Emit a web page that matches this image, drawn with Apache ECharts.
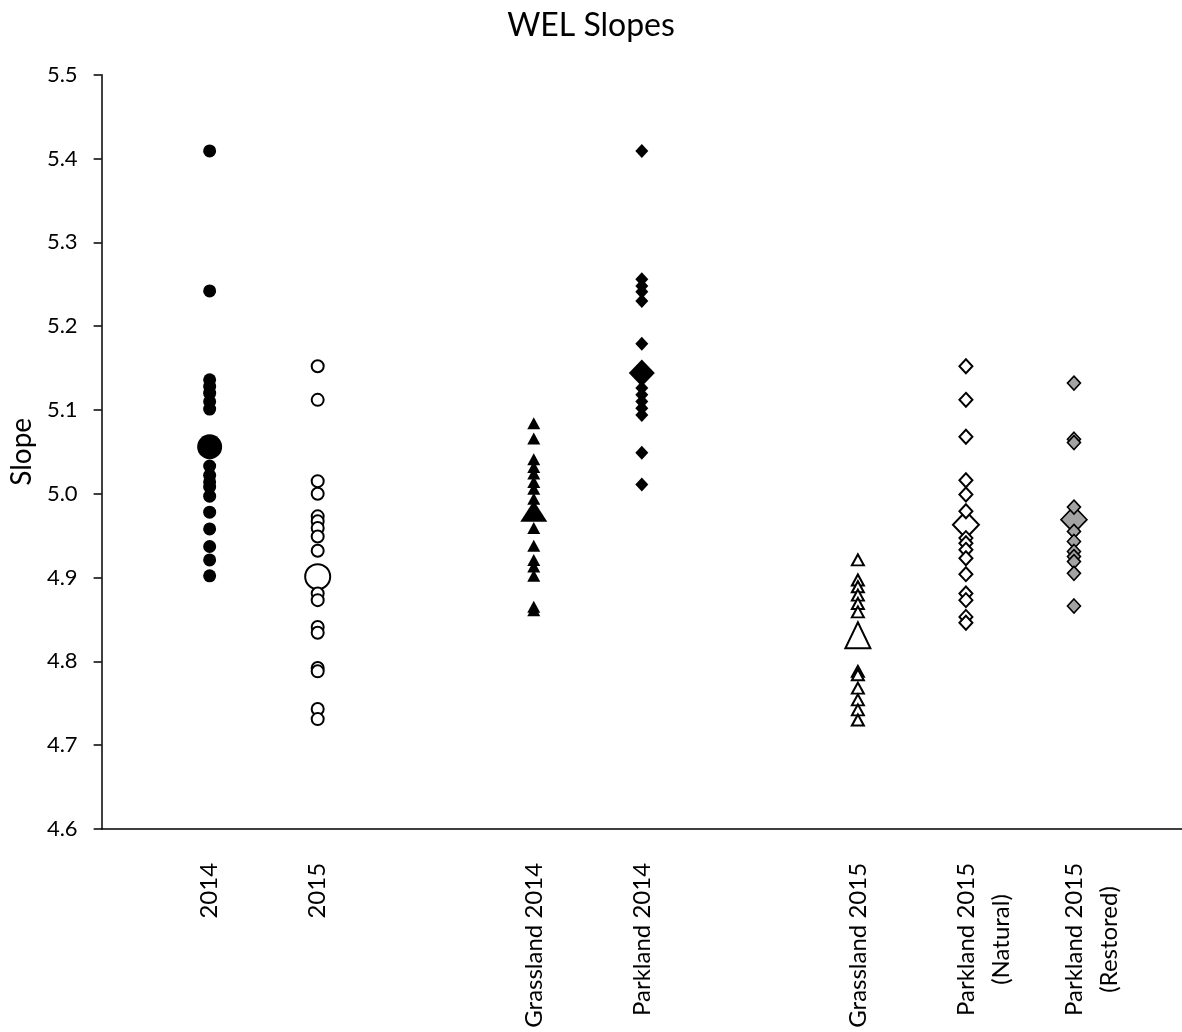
<!DOCTYPE html>
<html>
<head>
<meta charset="utf-8">
<title>WEL Slopes</title>
<script src="https://cdn.jsdelivr.net/npm/echarts@6/dist/echarts.min.js"></script>
<style>
  html, body { margin: 0; padding: 0; background: #ffffff; }
  #chart { width: 1182px; height: 1032px; }
</style>
</head>
<body>
<div id="chart"></div>
<script>
// Category names and the slot each one occupies on the horizontal axis (blank slots separate the groups)
const groupLabels = ['2014', '2015', 'Grassland 2014', 'Parkland 2014', 'Grassland 2015', 'Parkland 2015\n(Natural)', 'Parkland 2015\n(Restored)'];
const groupSlots = [1, 2, 4, 5, 7, 8, 9];

// Individual slopes per group
const slopes2014 = [5.409, 5.242, 5.136, 5.128, 5.120, 5.110, 5.101, 5.033, 5.022, 5.014, 5.008, 4.997, 4.978, 4.958, 4.937, 4.921, 4.902];
const slopes2015 = [5.152, 5.112, 5.015, 5.000, 4.973, 4.967, 4.959, 4.949, 4.932, 4.881, 4.873, 4.841, 4.834, 4.792, 4.788, 4.743, 4.731];
const slopesGrass2014 = [5.084, 5.066, 5.041, 5.032, 5.024, 5.014, 5.006, 4.994, 4.959, 4.938, 4.921, 4.913, 4.902, 4.865, 4.861];
const slopesPark2014 = [5.409, 5.256, 5.248, 5.241, 5.230, 5.179, 5.126, 5.118, 5.110, 5.102, 5.094, 5.049, 5.011];
const slopesGrass2015 = [4.921, 4.897, 4.889, 4.879, 4.869, 4.859, 4.788, 4.784, 4.768, 4.754, 4.742, 4.730];
const slopesParkNatural = [5.152, 5.112, 5.068, 5.016, 4.999, 4.979, 4.947, 4.941, 4.933, 4.923, 4.904, 4.881, 4.873, 4.853, 4.846];
const slopesParkRestored = [5.132, 5.065, 5.061, 4.984, 4.955, 4.943, 4.931, 4.925, 4.919, 4.905, 4.866];

// Group means
const groupMeans = [5.056, 4.901, 4.979, 5.144, 4.831, 4.963, 4.969];

// Value axis ticks
const yTicks = [4.6, 4.7, 4.8, 4.9, 5.0, 5.1, 5.2, 5.3, 5.4, 5.5];

const FONT = 'Lato';
const INK = '#000000';

const groupSeries = [slopes2014, slopes2015, slopesGrass2014, slopesPark2014, slopesGrass2015, slopesParkNatural, slopesParkRestored];

// Marker styles per group: [symbol, small size, mean size, fill, border width]
const markerStyles = [
  ['circle',   [13, 13], [25, 25], INK,       0],
  ['circle',   [12, 12], [25, 25], '#ffffff', 2],
  ['triangle', [13, 12], [27, 21], INK,       0],
  ['diamond',  [13, 14], [26, 27], INK,       0],
  ['triangle', [12, 11], [25, 26], '#ffffff', 2],
  ['diamond',  [13, 14], [26, 27], '#ffffff', 2],
  ['diamond',  [13, 14], [26, 27], '#a3a3a3', 1.6]
];

// Axis label text at each slot
const labelAtSlot = {};
groupSlots.forEach((s, i) => { labelAtSlot[s] = groupLabels[i]; });

function formatGroupLabel(v) {
  const text = labelAtSlot[Math.round(v)];
  if (!text) return '';
  const lines = text.split('\n');
  if (lines.length === 1) return text;
  // leading blank line keeps the first line on the tick; each line centred
  return ['{c| }'].concat(lines.map(l => '{c|' + l + '}')).join('\n');
}

const series = [];
groupSeries.forEach((vals, i) => {
  const st = markerStyles[i];
  const slot = groupSlots[i];
  series.push({
    name: groupLabels[i] + ' mean',
    type: 'scatter',
    symbol: st[0],
    symbolSize: st[2],
    z: 2,
    itemStyle: { color: st[3], borderColor: INK, borderWidth: st[4], opacity: 1 },
    data: [[slot, groupMeans[i]]],
    silent: true
  });
});
groupSeries.forEach((vals, i) => {
  const st = markerStyles[i];
  const slot = groupSlots[i];
  series.push({
    name: groupLabels[i],
    type: 'scatter',
    symbol: st[0],
    symbolSize: st[1],
    z: 3,
    itemStyle: { color: st[3], borderColor: INK, borderWidth: st[4], opacity: 1 },
    data: vals.map(v => [slot, v]),
    silent: true
  });
});

const chart = echarts.init(document.getElementById('chart'), null, { renderer: 'canvas' });
chart.setOption({
  backgroundColor: '#ffffff',
  animation: false,
  title: {
    text: 'WEL Slopes',
    left: 'center',
    top: 5,
    textStyle: { fontFamily: FONT, fontSize: 32, fontWeight: 'normal', color: INK }
  },
  grid: { left: 100, right: -5, top: 74.7, bottom: 203.1, containLabel: false },
  xAxis: {
    type: 'value',
    min: 0,
    max: 10,
    interval: 1,
    splitLine: { show: false },
    axisTick: { show: false },
    axisLine: { show: true, onZero: false, lineStyle: { color: INK, width: 1.5 } },
    axisLabel: {
      rotate: 90,
      margin: 34,
      fontFamily: FONT,
      fontSize: 24,
      color: INK,
      formatter: formatGroupLabel,
      rich: {
        c: { align: 'center', fontFamily: FONT, fontSize: 24, lineHeight: 35, color: INK }
      }
    }
  },
  yAxis: {
    type: 'value',
    name: 'Slope',
    nameLocation: 'middle',
    nameGap: 64,
    nameTextStyle: { fontFamily: FONT, fontSize: 28, color: INK },
    min: yTicks[0],
    max: yTicks[yTicks.length - 1],
    interval: 0.1,
    splitLine: { show: false },
    axisLine: { show: true, lineStyle: { color: INK, width: 1.5 } },
    axisTick: { show: true, inside: false, length: 8, lineStyle: { color: INK, width: 1.5 } },
    axisLabel: {
      margin: 24,
      fontFamily: FONT,
      fontSize: 22,
      color: INK,
      formatter: v => v.toFixed(1)
    }
  },
  series: series
});
</script>
</body>
</html>
